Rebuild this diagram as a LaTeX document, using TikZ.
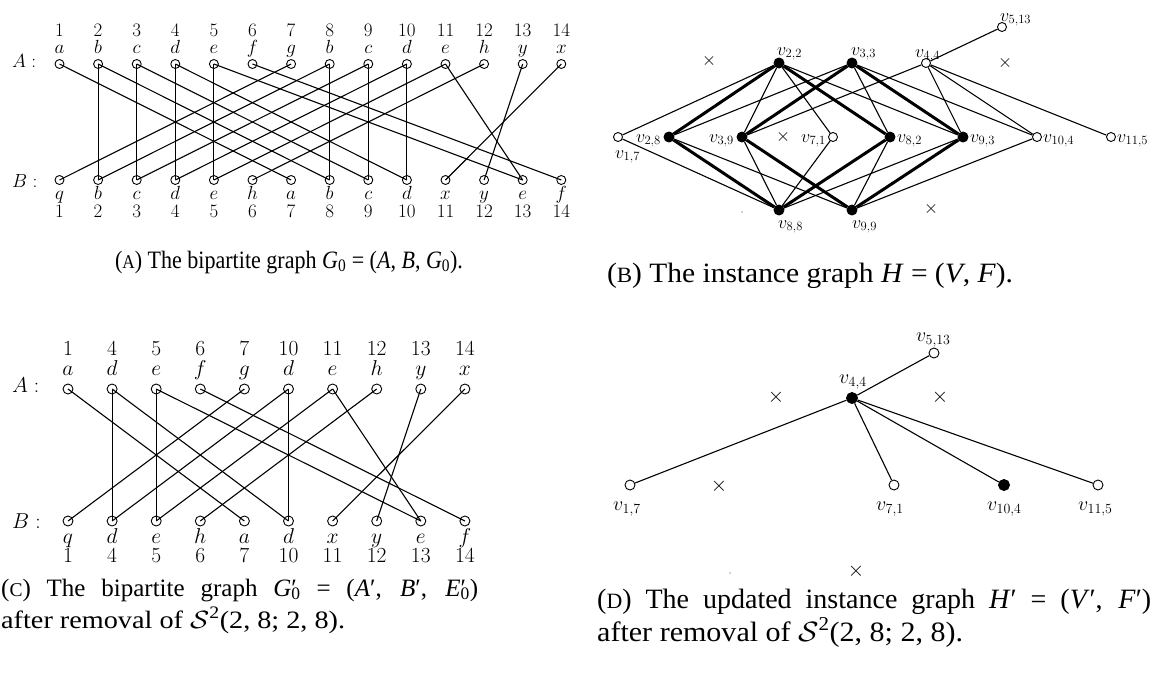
\RequirePackage{fix-cm}
\documentclass[tikz,border=0pt]{standalone}
\usepackage{fontspec}
\usepackage{graphicx}
\newfontfamily\capfont{Liberation Serif}
\newcommand\mysc[1]{{\fontsize{0.78\dimexpr\fontdimen6\font\relax}{0pt}\selectfont #1}}
\begin{document}
\begin{tikzpicture}[x=1pt,y=-1pt,
  vo/.style={circle,draw,line width=0.9pt,minimum size=9pt,inner sep=0pt},
  vf/.style={circle,draw,fill,line width=0.9pt,minimum size=10pt,inner sep=0pt},
  vod/.style={circle,draw,line width=0.9pt,minimum size=10pt,inner sep=0pt},
  vfd/.style={circle,draw,fill,line width=0.9pt,minimum size=11pt,inner sep=0pt},
  ed/.style={line width=1.1pt},
  tk/.style={line width=3pt},
  labA/.style={font=\fontsize{19}{22}\selectfont,inner sep=0pt,anchor=base},
  labC/.style={font=\fontsize{21.5}{24}\selectfont,inner sep=0pt,anchor=base},
  labB/.style={font=\fontsize{18}{21}\selectfont,inner sep=0pt},
  labD/.style={font=\fontsize{20}{23}\selectfont,inner sep=0pt,anchor=base west},
  xmk/.style={font=\fontsize{18}{21}\selectfont,inner sep=0pt},
  xmkd/.style={font=\fontsize{21}{24}\selectfont,inner sep=0pt},
  capL/.style={font=\capfont\fontsize{25}{30}\selectfont,inner sep=0pt},
  capR/.style={font=\capfont\fontsize{28}{33}\selectfont,inner sep=0pt},
  sdot/.style={circle,fill=gray!70,inner sep=0pt,minimum size=1.6pt}
]
\useasboundingbox (0,0) rectangle (1159,673);

% ---------------- Panel A ----------------
\node[labA,anchor=base west] (lAa) at (12,67) {$A:$};
\node[labA,anchor=base west] (lBa) at (12,187) {$B:$};
\foreach [count=\i] \la/\lb in {a/q,b/b,c/c,d/d,e/e,f/h,g/a,b/b,c/c,d/d,e/x,h/y,y/e,x/f} {
  \pgfmathsetmacro\xx{59.5+38.6*(\i-1)}
  \node[vo] (pa\i) at (\xx,64) {};
  \node[vo] (pb\i) at (\xx,180) {};
  \node[labA] (pan\i) at (\xx,36) {\i};
  \node[labA] (pal\i) at (\xx,53) {$\la$};
  \node[labA] (pbl\i) at (\xx,199) {$\lb$};
  \node[labA] (pbn\i) at (\xx,217) {\i};
}
\foreach \p/\q in {1/7,2/2,2/8,8/2,8/8,3/3,3/9,9/3,9/9,4/4,4/10,10/4,10/10,5/5,5/13,11/5,11/13,6/14,7/1,12/6,13/12,14/11}
  \draw[ed] (pa\p.center) -- (pb\q.center);

\node[capL,anchor=base] (capA) at (289,268) {\resizebox{348pt}{\height}{(\mysc{A}) The bipartite graph \textit{G}\textsubscript{0} = (\textit{A}, \textit{B}, \textit{G}\textsubscript{0}).}};

% ---------------- Panel C ----------------
\node[labC,anchor=base west] (lAc) at (12,392) {$A:$};
\node[labC,anchor=base west] (lBc) at (12,528) {$B:$};
\foreach [count=\k] \idx/\la/\lb in {1/a/q,4/d/d,5/e/e,6/f/h,7/g/a,10/d/d,11/e/x,12/h/y,13/y/e,14/x/f} {
  \pgfmathsetmacro\xx{68+44.1*(\k-1)}
  \node[vod] (ca\idx) at (\xx,389) {};
  \node[vod] (cb\idx) at (\xx,521) {};
  \node[labC] (can\idx) at (\xx,355) {\idx};
  \node[labC] (cal\idx) at (\xx,375) {$\la$};
  \node[labC] (cbl\idx) at (\xx,543) {$\lb$};
  \node[labC] (cbn\idx) at (\xx,562) {\idx};
}
\foreach \p/\q in {1/7,4/4,4/10,10/4,10/10,5/5,5/13,11/5,11/13,6/14,7/1,12/6,13/12,14/11}
  \draw[ed] (ca\p.center) -- (cb\q.center);

\node[capL,anchor=base west] (capC1) at (1,596) {\makebox[477pt][s]{(\mysc{C}) The bipartite graph \textit{G}\rlap{′}\textsubscript{0} = (\textit{A}′, \textit{B}′, \textit{E}\rlap{′}\textsubscript{0})}};
\node[capL,anchor=base west] (capC2) at (1,628) {\resizebox{344pt}{\height}{after removal of $\mathcal{S}$\textsuperscript{2}(2, 8; 2, 8).}};

% ---------------- Panel B ----------------
\node[vo] (v17) at (618,137) {};
\node[vf] (v28) at (669,137) {};
\node[vf] (v39) at (742,137) {};
\node[vo] (v71) at (833,137) {};
\node[vf] (v82) at (890,137) {};
\node[vf] (v93) at (963,137) {};
\node[vo] (v104) at (1037,137) {};
\node[vo] (v115) at (1111,137) {};
\node[vf] (v22) at (779,63) {};
\node[vf] (v33) at (852,63) {};
\node[vo] (v44) at (926,63) {};
\node[vo] (v513) at (1002,27) {};
\node[vf] (v88) at (779,210) {};
\node[vf] (v99) at (852,210) {};

\foreach \a/\b in {v28/v22,v28/v88,v22/v82,v88/v82,v39/v33,v39/v99,v33/v93,v99/v93}
  \draw[tk] (\a) -- (\b);
\foreach \a/\b in {v17/v22,v17/v88,v22/v39,v28/v33,v39/v44,v44/v513,v71/v88,v82/v99,v88/v93,v99/v104,v71/v22,v22/v93,v82/v33,v33/v104,v93/v44,v44/v104,v44/v115,v28/v99,v88/v39}
  \draw[ed] (\a) -- (\b);

\node[labB,anchor=base west] (l22) at (777,55) {$v_{2,2}$};
\node[labB,anchor=base west] (l33) at (851,55) {$v_{3,3}$};
\node[labB,anchor=base west] (l44) at (915,57) {$v_{4,4}$};
\node[labB,anchor=base west] (l513) at (1000,21) {$v_{5,13}$};
\node[labB,anchor=base east] (l28) at (661,142) {$v_{2,8}$};
\node[labB,anchor=base east] (l39) at (734,142) {$v_{3,9}$};
\node[labB,anchor=base east] (l71) at (826,142) {$v_{7,1}$};
\node[labB,anchor=base west] (l82) at (897,142) {$v_{8,2}$};
\node[labB,anchor=base west] (l93) at (970,142) {$v_{9,3}$};
\node[labB,anchor=base west] (l104) at (1043,142) {$v_{10,4}$};
\node[labB,anchor=base west] (l115) at (1117,142) {$v_{11,5}$};
\node[labB,anchor=base west] (l17) at (615,158) {$v_{1,7}$};
\node[labB,anchor=base west] (l88) at (778,228) {$v_{8,8}$};
\node[labB,anchor=base west] (l99) at (852,228) {$v_{9,9}$};

\node[xmk] (xb1) at (709,61) {$\times$};
\node[xmk] (xb2) at (783,137) {$\times$};
\node[xmk] (xb3) at (1005,63) {$\times$};
\node[xmk] (xb4) at (931,209) {$\times$};
\node[sdot] (db) at (742,212) {};

\node[capR,anchor=base] (capB) at (810,282) {\resizebox{406pt}{\height}{(\mysc{B}) The instance graph \textit{H} = (\textit{V}, \textit{F}).}};

% ---------------- Panel D ----------------
\node[vod] (d513) at (934,353) {};
\node[vfd] (d44) at (852,398) {};
\node[vod] (d17) at (630,485) {};
\node[vod] (d71) at (894,485) {};
\node[vfd] (d104) at (1004,485) {};
\node[vod] (d115) at (1098,485) {};
\foreach \b in {d513,d17,d71,d104,d115}
  \draw[ed] (d44) -- (\b);

\node[labD] (m513) at (916,341) {$v_{5,13}$};
\node[labD] (m44) at (839,383) {$v_{4,4}$};
\node[labD] (m17) at (613,510) {$v_{1,7}$};
\node[labD] (m71) at (876,510) {$v_{7,1}$};
\node[labD] (m104) at (987,510) {$v_{10,4}$};
\node[labD] (m115) at (1078,510) {$v_{11,5}$};

\node[xmkd] (xd1) at (776,397) {$\times$};
\node[xmkd] (xd2) at (940,397) {$\times$};
\node[xmkd] (xd3) at (719,486) {$\times$};
\node[xmkd] (xd4) at (856,571) {$\times$};
\node[sdot] (dd) at (730,573) {};

\node[capR,anchor=base west] (capD1) at (597,608) {\makebox[554pt][s]{(\mysc{D}) The updated instance graph \textit{H}′ = (\textit{V}′, \textit{F}′)}};
\node[capR,anchor=base west] (capD2) at (597,641) {\resizebox{366pt}{\height}{after removal of $\mathcal{S}$\textsuperscript{2}(2, 8; 2, 8).}};
\end{tikzpicture}
\end{document}
